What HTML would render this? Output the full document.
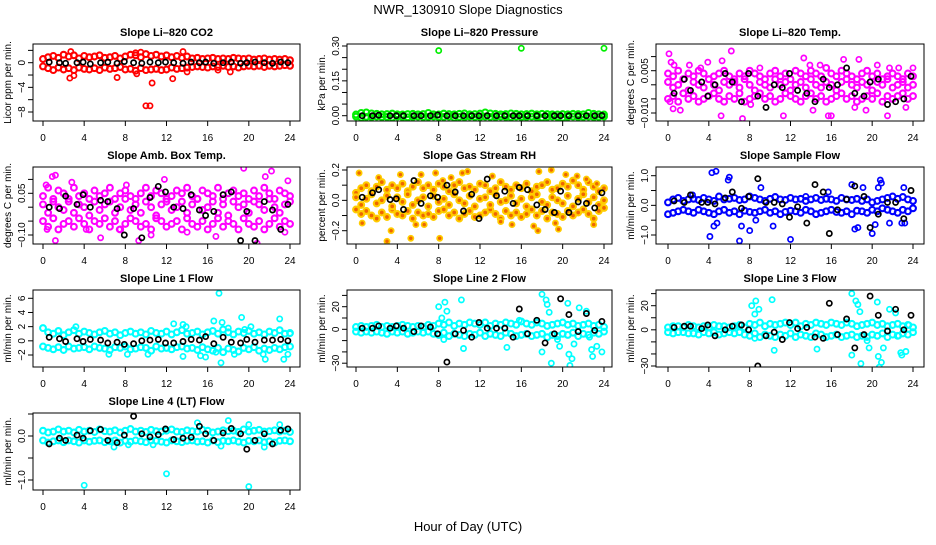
<!DOCTYPE html>
<html><head><meta charset="utf-8"><style>
body{margin:0;background:#fff}
svg text{font-family:"Liberation Sans",Arial,sans-serif}
</style></head><body>
<svg id="chart" width="936" height="540" viewBox="0 0 936 540" xmlns="http://www.w3.org/2000/svg">
<rect width="936" height="540" fill="#fff"/>
<text x="468" y="14" text-anchor="middle" font-size="13">NWR_130910  Slope Diagnostics</text>
<text x="468" y="531" text-anchor="middle" font-size="13">Hour of Day (UTC)</text>
</svg>
<script>
const xTicks=[0,4,8,12,16,20,24];
const blackHours=[0.6,1.6,2.2,3.3,3.9,4.6,5.6,6.3,7.2,7.9,8.8,9.6,10.4,11.2,11.9,12.7,13.6,14.4,15.2,15.8,16.6,17.5,18.3,19.2,19.8,20.6,21.5,22.3,23.1,23.8];

const co2Hi=[0.6,0.9,1.1,0.8,1.3,1.0,1.2,0.7,1.1,0.9,1.0,1.2,0.8,0.9,1.1,0.7,1.0,1.3,1.2,0.9,1.4,1.1,1.3,1.0,1.2,0.9,1.1,0.8,1.0,0.7,0.8,0.6,0.7,0.8,0.6,0.7,0.6,0.8,0.7,0.6,0.7,0.5,0.6,0.7,0.5,0.6,0.5,0.6,0.4];
const co2Lo=[-0.6,-0.9,-1.2,-0.8,-1.1,-0.9,-1.2,-0.8,-1.0,-1.1,-0.9,-1.2,-0.8,-1.0,-0.9,-0.7,-1.1,-1.0,-1.3,-0.9,-1.2,-1.1,-1.0,-1.2,-1.1,-0.8,-1.0,-0.9,-0.8,-0.7,-0.6,-0.7,-0.8,-0.6,-0.7,-0.5,-0.7,-0.6,-0.8,-0.6,-0.5,-0.6,-0.5,-0.7,-0.5,-0.6,-0.5,-0.4,-0.5];
const co2OutH=[2.0,10,10.4,10.6,12.6,2.6,3,7.2,9.1,13.6,2.7,9,9.5,14,17,18.2];
const co2OutV=[-10.3,-7,-7,-3.3,-2.6,-2.5,-2.1,-2.4,-1.8,1.8,1.8,1.6,1.7,-1.5,-1.2,-1.5];
const co2Black=[0.1,0,-0.1,0,0.1,-0.2,0,0.1,-0.1,0.2,0,-0.1,0.1,0,0.1,0,-0.1,0.1,0,0.1,-0.1,0,0.1,-0.1,0,0.1,0,-0.1,0.1,0];

const presHi=[0.005,0.012,0.014,0.01,0.008,0.006,0.007,0.009,0.006,0.005,0.007,0.008,0.006,0.007,0.012,0.006,0.005,0.009,0.007,0.006,0.008,0.01,0.006,0.007,0.009,0.014,0.01,0.008,0.006,0.007,0.01,0.008,0.006,0.007,0.009,0.006,0.008,0.007,0.006,0.005,0.007,0.006,0.008,0.007,0.006,0.012,0.008,0.006,0.005];
const presLo=[-0.004,-0.008,-0.005,-0.006,-0.004,-0.006,-0.005,-0.008,-0.004,-0.006,-0.007,-0.005,-0.004,-0.006,-0.005,-0.004,-0.006,-0.005,-0.004,-0.008,-0.005,-0.006,-0.004,-0.005,-0.006,-0.004,-0.005,-0.006,-0.004,-0.005,-0.007,-0.004,-0.006,-0.005,-0.004,-0.006,-0.008,-0.005,-0.004,-0.006,-0.009,-0.005,-0.004,-0.006,-0.005,-0.004,-0.006,-0.005,-0.004];
const presOutH=[8,16,24];
const presOutV=[0.28,0.29,0.29];
const presBlack=[0,0,0.002,0,0,0,0,0,0,0.003,0,0,0,0,0,0,0,0,0,0,0,0,0,0,0,0,0,0,0,0.001];

const tempHi=[0.004,0.003,0.005,0.002,0.004,0.003,0.005,0.004,0.002,0.003,0.004,0.005,0.003,0.002,0.004,0.003,0.005,0.004,0.003,0.002,0.004,0.005,0.003,0.004,0.002,0.005,0.004,0.003,0.005,0.004,0.003,0.006,0.004,0.003,0.005,0.004,0.003,0.002,0.004,0.005,0.003,0.004,0.002,0.003,0.004,0.003,0.002,0.004,0.003];
const tempLo=[-0.005,-0.004,-0.006,-0.003,-0.005,-0.004,-0.006,-0.005,-0.004,-0.003,-0.005,-0.006,-0.004,-0.005,-0.003,-0.006,-0.005,-0.004,-0.003,-0.005,-0.004,-0.006,-0.005,-0.003,-0.004,-0.005,-0.006,-0.004,-0.003,-0.005,-0.004,-0.006,-0.005,-0.004,-0.003,-0.005,-0.004,-0.006,-0.005,-0.004,-0.005,-0.003,-0.006,-0.004,-0.005,-0.004,-0.003,-0.005,-0.004];
const tempMid=[0.001,-0.001,0,0.002,-0.002,0.001,0,-0.001,0.002,0,-0.002,0.001,0,0.001,-0.001,0.002,0,-0.002,0.001,0,-0.001,0.002,0,0.001,-0.002,0,0.001,-0.001,0.002,0,-0.001,0.001,0,-0.002,0.001,0.002,0,-0.001,0.001,0,-0.002,0.001,0,0.002,-0.001,0,0.001,-0.001,0];
const tempOutH=[0.1,0.3,0.6,0.2,0.5,1.2,2.1,3.2,3.9,5.3,6.2,5.2,7.3,8.1,9.0,11.3,13.3,13.9,14.2,14.9,15.7,16.0,17.2,18.3,18.7,19.4,20.5,21.1,21.5,21.7,22.6,23.3,24];
const tempOutV=[0.011,0.008,0.007,-0.006,-0.0085,-0.009,0.007,0.006,0.008,0.0085,0.012,-0.011,-0.012,-0.007,0.006,-0.011,0.0095,0.007,-0.009,0.007,-0.011,-0.011,0.009,-0.008,0.009,-0.009,0.007,-0.015,-0.011,0.006,0.006,-0.008,0.006];
const tempBlack=[-0.003,0.002,-0.002,0.001,-0.004,0,0.004,0.001,-0.006,0.004,-0.004,-0.008,0,-0.001,0.004,-0.002,-0.003,-0.006,0.002,-0.001,0,0.006,-0.003,-0.004,0.001,0.002,-0.007,-0.006,-0.005,0.003];

const ambHi=[0.04,0.07,0.03,0.06,0.05,0.02,0.07,0.04,0.05,0.03,0.06,0.04,0.05,0.07,0.03,0.05,0.06,0.04,0.03,0.05,0.07,0.04,0.06,0.05,0.03,0.04,0.06,0.05,0.07,0.04,0.03,0.06,0.05,0.04,0.07,0.03,0.05,0.06,0.04,0.05,0.03,0.06,0.04,0.07,0.05,0.03,0.06,0.05,0.04];
const ambLo=[-0.05,-0.07,-0.04,-0.08,-0.06,-0.05,-0.07,-0.04,-0.06,-0.08,-0.05,-0.06,-0.04,-0.07,-0.05,-0.08,-0.06,-0.04,-0.05,-0.07,-0.06,-0.08,-0.04,-0.05,-0.07,-0.06,-0.05,-0.08,-0.04,-0.06,-0.07,-0.05,-0.08,-0.06,-0.04,-0.07,-0.05,-0.06,-0.08,-0.04,-0.06,-0.07,-0.05,-0.08,-0.06,-0.04,-0.07,-0.05,-0.06];
const ambMid=[0.01,-0.02,0.02,0,-0.01,0.03,-0.02,0.01,0,-0.03,0.02,-0.01,0.01,0.02,-0.02,0,0.03,-0.01,0.01,-0.02,0.02,0,-0.03,0.01,0.02,-0.01,0,0.02,-0.02,0.01,0.03,-0.01,0,0.02,-0.02,0.01,-0.03,0.02,0,0.01,-0.02,0.02,0.01,-0.01,0.03,0,-0.02,0.01,0.02];
const ambOutH=[0.3,0.9,1.2,2.8,0.4,1.2,4.2,5.6,7.4,9.3,10.5,14,16.8,19.5,20.8,21.6,22.2,23.5,23.8,11.8,8.1];
const ambOutV=[0.08,0.11,0.115,0.09,-0.08,-0.12,-0.08,-0.11,-0.08,-0.12,-0.1,-0.09,-0.105,0.14,-0.13,0.11,0.13,-0.09,0.095,0.1,0.08];
const ambBlack=[0,-0.005,0.04,0.01,0.045,0,0.025,0.02,-0.005,-0.1,-0.005,-0.11,0.035,0.075,0.055,0,-0.005,0.045,-0.01,-0.03,-0.015,0.045,0.055,-0.12,-0.015,-0.12,0.02,-0.01,-0.08,0.01];

const rhHi=[0.05,0.08,0.1,0.06,0.09,0.12,0.07,0.1,0.08,0.11,0.06,0.09,0.12,0.08,0.1,0.07,0.11,0.09,0.06,0.1,0.12,0.08,0.09,0.07,0.11,0.1,0.06,0.08,0.12,0.09,0.07,0.1,0.08,0.11,0.06,0.09,0.1,0.12,0.07,0.08,0.11,0.09,0.13,0.1,0.07,0.12,0.09,0.06,0.08];
const rhLo=[-0.06,-0.09,-0.07,-0.1,-0.12,-0.08,-0.11,-0.06,-0.09,-0.1,-0.07,-0.12,-0.08,-0.1,-0.09,-0.11,-0.07,-0.06,-0.1,-0.08,-0.12,-0.09,-0.07,-0.11,-0.1,-0.08,-0.06,-0.09,-0.12,-0.07,-0.1,-0.08,-0.11,-0.09,-0.06,-0.1,-0.07,-0.12,-0.08,-0.09,-0.11,-0.07,-0.1,-0.08,-0.06,-0.09,-0.12,-0.07,-0.05];
const rhMid=[0.02,-0.03,0.01,0.04,-0.02,0,0.03,-0.04,0.02,-0.01,0.04,-0.03,0,0.02,-0.04,0.03,-0.01,0.01,-0.03,0.04,0,-0.02,0.03,-0.04,0.01,0.02,-0.03,0.04,-0.01,0,0.03,-0.02,0.01,-0.04,0.02,0.04,-0.01,-0.03,0.02,0,-0.02,0.03,-0.04,0.01,0.04,-0.01,0.02,-0.03,0];
const rhOutH=[0.3,0.6,2.2,3,3.4,4.3,5.3,5.8,6.6,6.3,7.7,8.1,8.4,9.2,10.3,10.8,13.2,14,15.1,17.2,17.6,17.7,18.9,19.3,19.6,20.3,21.4,22.3,23,23.3];
const rhOutV=[0.18,-0.15,0.15,-0.27,-0.2,0.17,-0.25,-0.16,-0.16,0.17,0.18,-0.25,0.13,0.15,0.18,0.19,0.16,-0.14,-0.16,-0.17,-0.2,0.19,0.2,-0.15,-0.19,0.17,0.16,0.14,-0.16,0.11];
const rhBlack=[0.02,0.05,0.07,0.005,0.01,-0.06,0.13,-0.02,0.03,0.02,0.1,0.055,-0.07,0.04,-0.12,0.14,0.03,0.06,-0.02,0.085,0.07,-0.03,-0.06,-0.08,0.06,-0.08,-0.01,-0.02,-0.05,0.05];

const sfHi=[0.1,0.2,0.25,0.15,0.2,0.22,0.18,0.25,0.2,0.15,0.3,0.2,0.22,0.25,0.18,0.2,0.3,0.25,0.2,0.15,0.22,0.28,0.2,0.18,0.25,0.2,0.22,0.15,0.2,0.25,0.18,0.22,0.2,0.15,0.25,0.2,0.18,0.22,0.15,0.2,0.1,0.15,0.2,0.25,0.3,0.22,0.28,0.2,0.15];
const sfLo=[-0.3,-0.25,-0.2,-0.15,-0.2,-0.25,-0.15,-0.2,-0.25,-0.3,-0.2,-0.15,-0.25,-0.2,-0.3,-0.18,-0.22,-0.25,-0.2,-0.15,-0.25,-0.2,-0.3,-0.22,-0.18,-0.2,-0.25,-0.15,-0.2,-0.3,-0.25,-0.2,-0.15,-0.22,-0.25,-0.2,-0.3,-0.18,-0.2,-0.25,-0.15,-0.2,-0.1,-0.15,-0.2,-0.25,-0.15,-0.2,-0.1];
const sfOutH=[4.1,4.3,4.7,4.5,4.8,5.9,6,7,7.2,8,8.6,9.1,10.3,12,15.7,18,18.3,18.6,19.1,20,20.3,20.6,20.8,20.9,21.7,23.1,22.9,23.2,2.4,13.5];
const sfOutV=[-1.05,1.1,1.15,-0.7,-0.6,0.85,0.95,-1.2,-0.7,-0.85,-0.5,0.6,-0.7,-1.15,0.45,0.7,-0.8,-0.75,0.6,-0.95,-0.65,0.6,0.85,0.75,-0.6,0.6,-0.6,-0.6,0.35,0.3];
const sfBlack=[0.15,0.1,0.35,0.1,0.1,0.05,0.25,0.45,-0.1,0.3,0.9,0.1,0.1,0.05,-0.4,-0.05,-0.6,0.7,0.45,-0.95,-0.15,0.2,0.65,0.3,-0.75,-0.3,0.1,0.1,-0.45,0.5];

const l1Hi=[1.8,1.2,1.0,1.4,0.8,1.2,1.5,1.0,1.3,1.1,0.9,1.2,1.4,1.0,1.2,0.8,1.1,1.3,1.0,1.2,0.9,1.4,1.1,1.0,1.3,0.9,1.2,1.5,1.0,1.1,1.3,0.9,1.2,1.4,1.0,1.6,1.2,0.9,1.3,1.1,1.4,1.0,1.2,0.9,1.3,1.1,1.5,1.0,1.1];
const l1Lo=[-0.8,-1.0,-1.2,-0.9,-1.3,-0.8,-1.1,-1.0,-0.9,-1.2,-0.8,-1.0,-1.1,-1.3,-0.9,-1.0,-0.8,-1.2,-1.1,-0.9,-1.0,-1.4,-0.8,-1.1,-1.0,-1.2,-0.9,-0.8,-1.1,-1.0,-1.3,-0.9,-1.2,-1.4,-1.0,-1.6,-1.1,-1.3,-1.5,-1.0,-1.2,-0.9,-1.4,-1.1,-1.3,-1.0,-1.2,-0.9,-0.8];
const l1OutH=[1.5,3.2,6.4,8.2,10.2,12.7,13.6,13.6,13.9,15.3,15.8,16.6,16.8,17.1,17.3,17.4,18,18.6,19.3,19.6,20.2,21.4,21.6,23,23.4,23.8,24];
const l1OutV=[1.4,2.0,-1.9,-1.9,-1.9,2.4,-2.2,2.3,2.0,-2.1,-2.3,2.8,-1.6,6.7,-3.1,2.6,1.8,-1.9,3.3,1.6,2.0,-1.9,-2.6,3.1,-2.6,-1.9,1.0];
const l1Black=[0.5,0.3,-0.1,0.3,-0.1,0.2,0.1,-0.3,-0.2,-0.5,-0.4,0,0.1,0.2,-0.3,-0.3,-0.1,0.2,0.1,0.6,-0.4,0.5,-0.2,-0.3,0.2,-0.2,0.1,0.1,0.2,0];

const l2Hi=[2,3,2,3,4,2,3,2,3,4,3,2,3,2,4,3,5,4,6,3,5,4,6,5,4,6,3,5,4,6,5,4,7,5,4,6,5,3,4,5,6,4,5,3,4,5,3,4,2];
const l2Lo=[-2,-3,-2,-3,-2,-3,-4,-2,-3,-2,-4,-3,-2,-3,-2,-4,-5,-3,-6,-4,-5,-6,-4,-5,-3,-6,-4,-5,-6,-3,-4,-6,-5,-4,-6,-5,-4,-7,-5,-6,-4,-5,-3,-6,-4,-5,-3,-4,-2];
const l2OutH=[8,8.3,8.6,8.8,10.2,10.4,8.5,14.6,15.8,18,18.4,18.5,18,18.7,18.9,19.5,19.7,20.5,20.6,20.7,20.9,21.1,21.6,22.3,22.6,22.8,22.9,23.3,23.8];
const l2OutV=[20,10,24,16,26,-17,-9,-16,8,31,26,22,-20,15,-30,-9,-15,23,-22,-32,-26,-13,19,16,-7,-18,-24,-15,-20];
const l2Black=[1,1,3,1,3,1,-2,3,2,-4,-29,-4,-1,-7,6,1,1,1,-7,18,-4,8,-12,-4,27,13,-2,14,-1,7];

const l3Hi=[2,3,3,2,4,3,2,3,2,4,3,3,2,3,4,2,5,4,6,3,5,4,5,6,4,6,3,5,4,6,5,4,6,5,4,6,5,3,4,5,6,4,5,3,4,5,3,4,2];
const l3Lo=[-2,-3,-2,-2,-3,-3,-4,-2,-3,-2,-4,-3,-2,-3,-2,-4,-5,-3,-6,-4,-5,-6,-4,-5,-3,-6,-4,-5,-6,-3,-4,-6,-5,-4,-6,-5,-4,-6,-5,-6,-4,-5,-3,-6,-4,-5,-3,-4,-2];
const l3OutH=[8.2,8.5,8.6,8.9,10.2,10.4,8.5,14.6,18,18.4,18.6,18,18.8,18.9,19.5,19.7,20.5,20.6,20.7,20.9,21.1,21.7,22.3,22.6,22.8,22.9,23.3,23.6];
const l3OutV=[20,13,24,17,25,-17,-7,-16,30,24,21,-21,15,-28,-9,-15,23,-22,-31,-27,-15,17,14,-5,-19,-21,-18,4];
const l3Black=[2,3,3,1,4,-5,0,3,4,0,-30,-5,-2,-8,6,1,2,-6,-7,22,-4,9,-15,-4,28,12,-1,17,0,12];

const l4Hi=[0.12,0.08,0.1,0.15,0.1,0.12,0.08,0.14,0.1,0.12,0.09,0.15,0.11,0.1,0.13,0.08,0.12,0.16,0.1,0.12,0.09,0.14,0.11,0.1,0.12,0.15,0.1,0.09,0.13,0.11,0.1,0.14,0.12,0.08,0.1,0.13,0.11,0.12,0.09,0.15,0.1,0.12,0.14,0.1,0.11,0.13,0.1,0.12,0.09];
const l4Lo=[-0.1,-0.15,-0.12,-0.1,-0.14,-0.1,-0.12,-0.15,-0.1,-0.13,-0.11,-0.1,-0.14,-0.12,-0.1,-0.15,-0.11,-0.13,-0.1,-0.12,-0.14,-0.1,-0.11,-0.13,-0.15,-0.1,-0.12,-0.14,-0.11,-0.1,-0.13,-0.12,-0.15,-0.1,-0.14,-0.11,-0.12,-0.1,-0.13,-0.15,-0.11,-0.12,-0.1,-0.14,-0.12,-0.15,-0.11,-0.1,-0.12];
const l4OutH=[4,12,20,18,20,23,10.7,17.3,21.5,6.9,8.3,15];
const l4OutV=[-1.12,-0.86,-1.15,0.35,0.26,0.26,-0.2,-0.23,-0.25,-0.25,-0.2,0.3];
const l4Black=[-0.18,-0.05,-0.1,0.02,-0.05,0.12,0.15,-0.1,-0.15,0.02,0.45,0.05,-0.02,0.03,0.16,-0.08,-0.05,-0.03,0.22,0.05,-0.1,0.07,0.17,0.05,-0.3,-0.1,0.05,-0.18,0.13,0.16];

const co2Ticks=[2,0,-2,-4,-6,-8],co2Labels=["","0","","-4","","-8"];
const presTicks=[0.3,0.25,0.2,0.15,0.1,0.05,0],presLabels=["0.30","","","0.15","","","0.00"];
const tempTicks=[0.01,0.005,0,-0.005,-0.01],tempLabels=["","0.005","","","-0.010"];
const ambTicks=[0.1,0.05,0,-0.05,-0.1],ambLabels=["","0.05","","","-0.10"];
const rhTicks=[0.2,0.1,0,-0.1,-0.2],rhLabels=["0.2","","0.0","","-0.2"];
const sfTicks=[1,0.5,0,-0.5,-1],sfLabels=["1.0","","0.0","","-1.0"];
const l1Ticks=[6,4,2,0,-2],l1Labels=["6","4","2","0","-2"];
const l2Ticks=[30,20,10,0,-10,-20,-30],l2Labels=["","20","","0","","","-30"];
const l4Ticks=[0.5,0,-0.5,-1],l4Labels=["","0.0","","-1.0"];

const NS="http://www.w3.org/2000/svg";
const svg=document.getElementById('chart');
const colX=[[33,300,43,290],[347,612,356,604],[656,924,668,913]];
const rowY=[44,167,290,413];
const H=77;
function mk(tag,attrs,parent){const e=document.createElementNS(NS,tag);for(const k in attrs)e.setAttribute(k,attrs[k]);(parent||svg).appendChild(e);return e;}

const panels=[
 {name:'co2',title:'Slope Li-820 CO2',ytitle:'Licor ppm per min.',c:0,r:0,color:'#ff0000',cal:[0,18.7,-8,68],ticks:co2Ticks,labels:co2Labels,bands:[co2Hi,co2Lo],outH:co2OutH,outV:co2OutV,black:co2Black},
 {name:'pressure',title:'Slope Li-820 Pressure',ytitle:'kPa per min.',c:1,r:0,color:'#00ee00',cal:[0.3,2,0,71.7],ticks:presTicks,labels:presLabels,bands:[presHi,presLo],outH:presOutH,outV:presOutV,black:presBlack},
 {name:'temp',title:'Slope Li-820 Temp.',ytitle:'degrees C per min.',c:2,r:0,color:'#ff00ff',cal:[0.005,26.7,-0.01,69],ticks:tempTicks,labels:tempLabels,bands:[tempHi,tempLo,tempMid],outH:tempOutH,outV:tempOutV,black:tempBlack},
 {name:'amb-box-temp',title:'Slope Amb. Box Temp.',ytitle:'degrees C per min.',c:0,r:1,color:'#ff00ff',cal:[0.05,26.3,-0.1,68],ticks:ambTicks,labels:ambLabels,bands:[ambHi,ambLo,ambMid],outH:ambOutH,outV:ambOutV,black:ambBlack},
 {name:'gas-stream-rh',title:'Slope Gas Stream RH',ytitle:'percent per min.',c:1,r:1,color:'#ffcc00',fill:'#ee6600',cal:[0.2,3,-0.2,63.7],ticks:rhTicks,labels:rhLabels,bands:[rhHi,rhLo,rhMid],outH:rhOutH,outV:rhOutV,black:rhBlack},
 {name:'sample-flow',title:'Slope Sample Flow',ytitle:'ml/min per min.',c:2,r:1,color:'#0000ff',cal:[1,8.7,-1,68],ticks:sfTicks,labels:sfLabels,bands:[sfHi,sfLo],outH:sfOutH,outV:sfOutV,black:sfBlack},
 {name:'line1-flow',title:'Slope Line 1 Flow',ytitle:'ml/min per min.',c:0,r:2,color:'#00ffff',cal:[6,8.3,-2,65],ticks:l1Ticks,labels:l1Labels,bands:[l1Hi,l1Lo],outH:l1OutH,outV:l1OutV,black:l1Black},
 {name:'line2-flow',title:'Slope Line 2 Flow',ytitle:'ml/min per min.',c:1,r:2,color:'#00ffff',cal:[20,16.7,-30,73.2],ticks:l2Ticks,labels:l2Labels,bands:[l2Hi,l2Lo],outH:l2OutH,outV:l2OutV,black:l2Black},
 {name:'line3-flow',title:'Slope Line 3 Flow',ytitle:'ml/min per min.',c:2,r:2,color:'#00ffff',cal:[20,15.7,-30,76],ticks:l2Ticks,labels:l2Labels,bands:[l3Hi,l3Lo],outH:l3OutH,outV:l3OutV,black:l3Black},
 {name:'line4-flow',title:'Slope Line 4 (LT) Flow',ytitle:'ml/min per min.',c:0,r:3,color:'#00ffff',cal:[0,23,-1,67],ticks:l4Ticks,labels:l4Labels,bands:[l4Hi,l4Lo],outH:l4OutH,outV:l4OutV,black:l4Black}
];

panels.forEach(p=>{
  const [L,R,x0,x24]=colX[p.c];const T=rowY[p.r],B=T+H;
  const g=mk('g',{});
  
  
  const xs=h=>x0+(x24-x0)*h/24;
  const [v0,o0,v1,o1]=p.cal;
  const ys=v=>T+o0+(v-v0)*(o1-o0)/(v1-v0);
  const clip='clip-'+p.name;
  const cp=mk('clipPath',{id:clip},g);mk('rect',{x:L,y:T,width:R-L,height:H},cp);
  const pts=mk('g',{'clip-path':'url(#'+clip+')'},g);
  function dot(h,v,color,fill,nm,rr,sw){
    const c=mk('circle',{cx:xs(h).toFixed(1),cy:ys(v).toFixed(1),r:rr,fill:fill||'none',stroke:color,'stroke-width':sw},pts);
    
    
  }
  p.bands.forEach(arr=>arr.forEach((v,i)=>dot(i*0.5,v,p.color,p.fill,p.name+'-point',2.9,2.1)));
  p.outH.forEach((h,i)=>dot(h,p.outV[i],p.color,p.fill,p.name+'-point',2.6,1.7));
  p.black.forEach((v,i)=>dot(blackHours[i],v,'#000',null,p.name+'-reference-point',2.6,1.7));
  const box=mk('rect',{x:L,y:T,width:R-L,height:H,fill:'none',stroke:'#000','stroke-width':1},g);
  
  
  mk('line',{x1:x0,y1:B,x2:x24,y2:B,stroke:'#000'},g);
  xTicks.forEach(t=>{
    mk('line',{x1:xs(t),y1:B,x2:xs(t),y2:B+5,stroke:'#000'},g);
    const tx=mk('text',{x:xs(t),y:B+20,'text-anchor':'middle','font-size':10},g);
    tx.textContent=t;
    
    
  });
  p.ticks.forEach((t,i)=>{
    const y=ys(t);
    mk('line',{x1:L-5,y1:y,x2:L,y2:y,stroke:'#000'},g);
    if(p.labels[i]){
      const tx=mk('text',{x:L-8,y:y,'text-anchor':'middle','font-size':10,transform:'rotate(-90 '+(L-8)+' '+y+')'},g);
      tx.textContent=p.labels[i].replace('-','\u2212');
      
      
    }
  });
  const ty=(T+B)/2;
  const yt=mk('text',{x:L-22,y:ty,'text-anchor':'middle','font-size':10,transform:'rotate(-90 '+(L-22)+' '+ty+')'},g);
  yt.textContent=p.ytitle;
  
  
  const tt=mk('text',{x:(L+R)/2,y:T-8,'text-anchor':'middle','font-size':11,'font-weight':'bold'},g);
  tt.textContent=p.title.replace('-','\u2013');
  
  
});
</script>
</body></html>
